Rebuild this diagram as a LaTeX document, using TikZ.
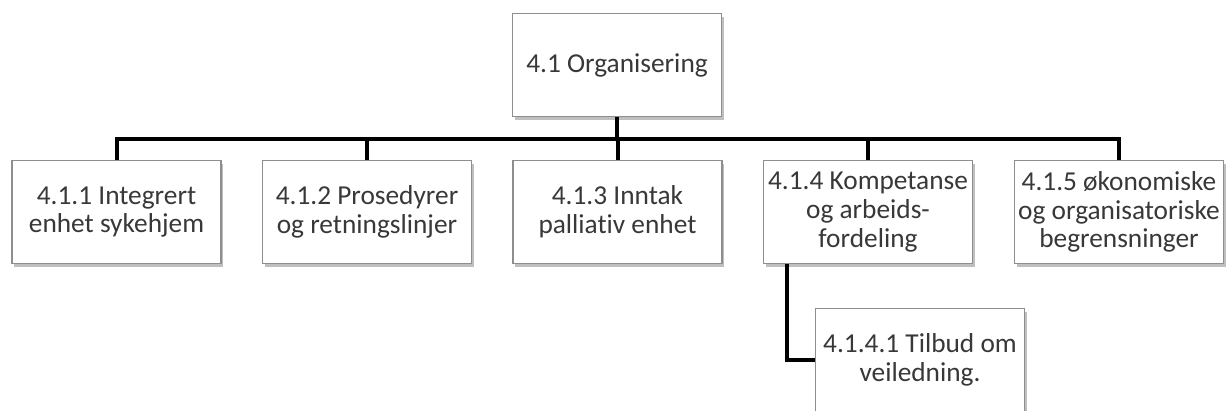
\documentclass[tikz,border=0pt]{standalone}
\usepackage{fontspec}
\setmainfont{Carlito}[Ligatures=CommonOff]
\usetikzlibrary{shadows}
\definecolor{boxline}{HTML}{8E8E8E}
\definecolor{boxtext}{HTML}{383838}
\tikzset{
    every node/.style={draw=boxline, line width=0.8pt, fill=white, align=center,
    	text=boxtext, minimum width=156.75pt, minimum height=77.25pt, inner sep=2pt,
    	font=\fontsize{20.5}{21.5}\selectfont,
    	drop shadow={shadow xshift=1.5pt, shadow yshift=-2.5pt, opacity=.25, fill=black}}
}
\tikzset{
    tree/.style={line width=3pt, black}
}

\begin{document}
\begin{tikzpicture}[x=0.75pt,y=-0.75pt]
  \clip (0,0) rectangle (1230,410);
  \useasboundingbox (0,0) rectangle (1230,410);

  \node (org) at (617,65) {4.1 Organisering};

  \node (c1) at (116.5,212) {4.1.1 Integrert\\enhet sykehjem};

  \node (c2) at (367,212) {4.1.2 Prosedyrer\\og retningslinjer};

  \node (c3) at (617.5,212) {4.1.3 Inntak\\palliativ enhet};

  \node (c4) at (868,212) {4.1.4 Kompetanse\\og arbeids-\\fordeling};

  \node (c5) at (1119,212) {4.1.5 økonomiske\\og organisatoriske\\begrensninger};

  \node (sub) at (920,360) {4.1.4.1 Tilbud om\\veiledning.};

  \coordinate (bus) at (617,139);

  \draw[tree] (org.south) -- (bus);
  \draw[tree] (c1.north) |- (bus) -| (c5.north);
  \draw[tree] (c2.north) -- (c2.north |- bus);
  \draw[tree] (c3.north) -- (c3.north |- bus);
  \draw[tree] (c4.north) -- (c4.north |- bus);
  \draw[tree] ([xshift=-60.75pt]c4.south) |- (sub.west);
\end{tikzpicture}
\end{document}
